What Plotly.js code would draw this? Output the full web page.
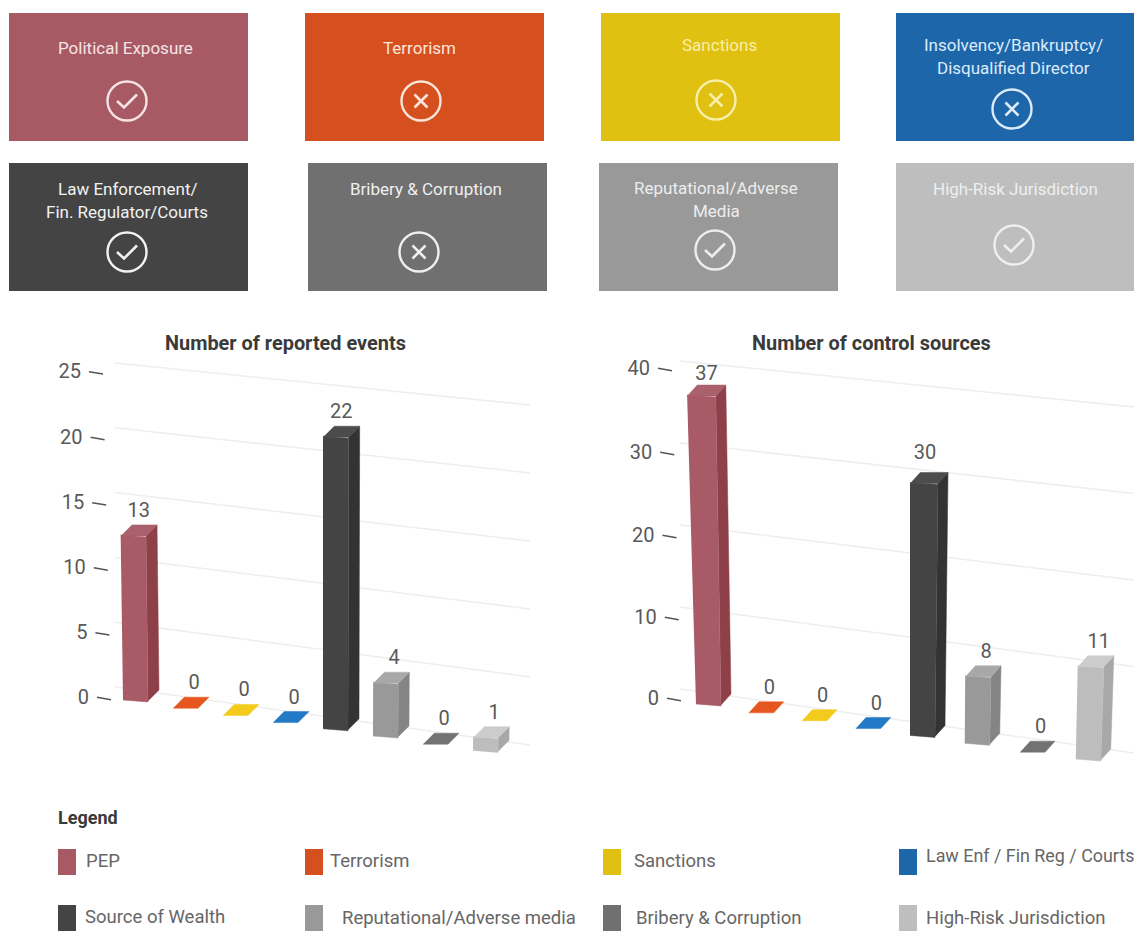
<!DOCTYPE html>
<html>
<head>
<meta charset="utf-8">
<script src="https://cdn.plot.ly/plotly-3.0.1.min.js"></script>
<style>
  html, body { margin: 0; padding: 0; background: #fff; overflow: hidden; }
  #chart { width: 1134px; height: 933px; }
</style>
</head>
<body>
<div id="chart"></div>
<script>
// Risk categories, shared by both bar charts and the legend
const categories = ['PEP', 'Terrorism', 'Sanctions', 'Law Enf / Fin Reg / Courts',
  'Source of Wealth', 'Reputational/Adverse media', 'Bribery & Corruption', 'High-Risk Jurisdiction'];

const reportedEvents = [13, 0, 0, 0, 22, 4, 0, 1];
const controlSources = [37, 0, 0, 0, 30, 8, 0, 11];
const reportedTicks = [0, 5, 10, 15, 20, 25];
const controlTicks = [0, 10, 20, 30, 40];

const frontColors = ['#A85A66', '#E0501F', '#EDC414', '#1F72BC', '#444444', '#999999', '#727272', '#BDBDBD'];
const sideColors  = ['#8E4049', '#C4431A', '#CFAA10', '#1A5E9C', '#333333', '#848484', '#606060', '#A8A8A8'];
const topColors   = ['#A9616C', '#E6561F', '#F2CB1C', '#2279C6', '#4C4C4C', '#A8A8A8', '#727272', '#CCCCCC'];
const legendColors = ['#A85A64', '#D6501F', '#E0C010', '#1E66AA', '#444444', '#999999', '#707070', '#BEBEBE'];

const tileTitles = [
  ['Political Exposure'], ['Terrorism'], ['Sanctions'], ['Insolvency/Bankruptcy/', 'Disqualified Director'],
  ['Law Enforcement/', 'Fin. Regulator/Courts'], ['Bribery & Corruption'], ['Reputational/Adverse', 'Media'], ['High-Risk Jurisdiction']
];
const tileCleared = [true, false, false, false, true, false, true, true];
const tileColors = ['#A85A64', '#D6501F', '#E0C010', '#1E66AA', '#444444', '#707070', '#999999', '#BEBEBE'];
const tileTextColors = ['#F6E4E4', '#FBE6DC', '#F8EFA8', '#DCEBFA', '#F2F2F2', '#EFEFEF', '#EDEDED', '#EFEFEF'];

// Page layout of the tiles: left edge, top edge, title centre, icon centre
const tileBoxes = [
  { x: 9,   y: 13,  tx: 125,  ty: 48,  cx: 127,  cy: 101 },
  { x: 305, y: 13,  tx: 419,  ty: 48,  cx: 421,  cy: 101 },
  { x: 601, y: 13,  tx: 719,  ty: 45,  cx: 716,  cy: 100 },
  { x: 896, y: 13,  tx: 1013, ty: 45,  cx: 1012, cy: 109 },
  { x: 9,   y: 163, tx: 127,  ty: 189, cx: 127,  cy: 252 },
  { x: 308, y: 163, tx: 426,  ty: 189, cx: 419,  cy: 252 },
  { x: 599, y: 163, tx: 716,  ty: 188, cx: 715,  cy: 250 },
  { x: 896, y: 163, tx: 1015, ty: 189, cx: 1014, cy: 245 }
];

// Page layout of the legend entries, in category order
const legendBoxes = [
  { x: 58,  y: 849, tx: 84,  ty: 861, size: 18.5 }, { x: 305, y: 849, tx: 328, ty: 861, size: 18.5 },
  { x: 603, y: 849, tx: 632, ty: 861, size: 18.5 }, { x: 899, y: 849, tx: 924, ty: 855, size: 17.9 },
  { x: 58,  y: 905, tx: 83,  ty: 917, size: 18.5 }, { x: 305, y: 905, tx: 340, ty: 918, size: 18.5 },
  { x: 603, y: 905, tx: 634, ty: 918, size: 18.5 }, { x: 899, y: 905, tx: 924, ty: 918, size: 18.5 }
];

const FONT = 'Roboto, sans-serif';

// Oblique view of each chart: how category index and value land on the page
const leftView = {
  box: [40, 340, 540, 772], xa: 'x', ya: 'y', xk: 'xaxis', yk: 'yaxis',
  originX: 123, originY: 701, catStep: 50, catGrow: 0, floorStep: 7.2,
  unit: 12.7, unitGrow: 0.15, lean: -0.18, leanStep: 0.045, width: 25, widen: 0.03, dx: 11, dy: 11,
  grid: { x0: 115, y0: 687, u0: 12.96, x1: 530, y1: 745, u1: 13.6 },
  tick: { x: 111, xStep: -0.32, y: 698.5, yStep: -12.9, curve: -0.005 },
  labelShift: {}
};
const rightView = {
  box: [610, 340, 1134, 772], xa: 'x2', ya: 'y2', xk: 'xaxis2', yk: 'yaxis2',
  originX: 696, originY: 705, catStep: 52.5, catGrow: 0.25, floorStep: 7.86,
  unit: 8.35, unitGrow: 0.02, lean: -0.24, leanStep: 0.06, width: 25, widen: 0.1, dx: 10, dy: 11,
  grid: { x0: 680, y0: 689, u0: 8.2, x1: 1134, y1: 753, u1: 8.65 },
  tick: { x: 681, xStep: -0.225, y: 699.5, yStep: -8.05, curve: -0.005 },
  labelShift: { 0: [0, 3], 4: [-4, -6] }
};

const axisX = (view, px) => (px - view.originX) / view.catStep;
const axisY = (view, py) => (view.originY - py) / view.unit;

// Page position of the front-left corner of a bar at the given height
function corner(view, i, value) {
  return {
    x: view.originX + view.catStep * i + view.catGrow * i * i + (view.lean + view.leanStep * i) * value,
    y: view.originY + view.floorStep * i - value * (view.unit + view.unitGrow * i)
  };
}

function polygon(view, pts, color) {
  return {
    type: 'scatter', mode: 'lines', xaxis: view.xa, yaxis: view.ya,
    x: pts.map(p => axisX(view, p.x)), y: pts.map(p => axisY(view, p.y)),
    fill: 'toself', fillcolor: color, line: { color: color, width: 0.5 },
    hoverinfo: 'skip', showlegend: false
  };
}

function gridPoint(view, value, px) {
  const g = view.grid, t = (px - g.x0) / (g.x1 - g.x0);
  const y0 = g.y0 - g.u0 * value, y1 = g.y1 - g.u1 * value;
  return { x: px, y: y0 + (y1 - y0) * t };
}

function chartTraces(view, values, ticks) {
  const out = [];
  // Receding gridlines on the back wall
  ticks.forEach(v => {
    const a = gridPoint(view, v, view.grid.x0), b = gridPoint(view, v, view.grid.x1);
    out.push({
      type: 'scatter', mode: 'lines', xaxis: view.xa, yaxis: view.ya,
      x: [axisX(view, a.x), axisX(view, b.x)], y: [axisY(view, a.y), axisY(view, b.y)],
      line: { color: '#EEEEEE', width: 1.5 }, hoverinfo: 'skip', showlegend: false
    });
  });
  // Tick dashes and labels follow the perspective of the value axis
  const tickPos = ticks.map(v => ({
    v, x: view.tick.x + view.tick.xStep * v,
    y: view.tick.y + view.tick.yStep * v + view.tick.curve * v * v
  }));
  tickPos.forEach(t => {
    out.push({
      type: 'scatter', mode: 'lines', xaxis: view.xa, yaxis: view.ya,
      x: [axisX(view, t.x - 14), axisX(view, t.x)], y: [axisY(view, t.y - 1.2), axisY(view, t.y + 1.2)],
      line: { color: '#555555', width: 1.6 }, hoverinfo: 'skip', showlegend: false
    });
  });
  out.push({
    type: 'scatter', mode: 'text', xaxis: view.xa, yaxis: view.ya,
    x: tickPos.map(t => axisX(view, t.x - 22)), y: tickPos.map(t => axisY(view, t.y)),
    text: tickPos.map(t => String(t.v)), textposition: 'middle left',
    textfont: { family: FONT, size: 20, color: '#595959' }, hoverinfo: 'skip', showlegend: false
  });
  // Bars: side, front and top faces, then the value label
  values.forEach((v, i) => {
    const fb = corner(view, i, 0), ft = corner(view, i, v);
    const w = view.width, wt = view.width + view.widen * v, dx = view.dx, dy = view.dy;
    if (v > 0) {
      out.push(polygon(view, [
        { x: fb.x + w, y: fb.y }, { x: fb.x + w + dx, y: fb.y - dy },
        { x: ft.x + wt + dx, y: ft.y - dy }, { x: ft.x + wt, y: ft.y }
      ], sideColors[i]));
      out.push(polygon(view, [
        { x: fb.x, y: fb.y - 1 }, { x: fb.x + w, y: fb.y + 1 },
        { x: ft.x + wt, y: ft.y + 1 }, { x: ft.x, y: ft.y - 1 }
      ], frontColors[i]));
    }
    out.push(polygon(view, [
      { x: ft.x, y: ft.y }, { x: ft.x + wt, y: ft.y },
      { x: ft.x + wt + dx, y: ft.y - dy }, { x: ft.x + dx, y: ft.y - dy }
    ], topColors[i]));
    const shift = view.labelShift[i] || [v < 12 ? 3 : 0, 0];
    out.push({
      type: 'scatter', mode: 'text', xaxis: view.xa, yaxis: view.ya,
      x: [axisX(view, ft.x + (wt + dx) / 2 + shift[0])], y: [axisY(view, ft.y - 24 + shift[1])],
      text: [String(v)], textposition: 'middle center',
      textfont: { family: FONT, size: 20, color: '#595959' }, hoverinfo: 'skip', showlegend: false
    });
  });
  return out;
}

function axesFor(view) {
  const [l, t, r, b] = view.box;
  return {
    [view.xk]: { domain: [l / 1134, r / 1134], range: [axisX(view, l), axisX(view, r)], visible: false, fixedrange: true, anchor: view.ya },
    [view.yk]: { domain: [1 - b / 933, 1 - t / 933], range: [axisY(view, b), axisY(view, t)], visible: false, fixedrange: true, anchor: view.xa }
  };
}

// Page-space overlay for tiles, icons, titles and the legend
const pageShapes = [];
const pageNotes = [];
const note = (text, x, y, size, color, extra) => pageNotes.push(Object.assign({
  text, x, y, xref: 'x3', yref: 'y3', showarrow: false, xanchor: 'center', yanchor: 'middle',
  font: { family: FONT, size, color }
}, extra || {}));
const shape = s => pageShapes.push(Object.assign({ xref: 'x3', yref: 'y3', layer: 'below' }, s));

tileBoxes.forEach((b, i) => {
  shape({ type: 'rect', x0: b.x, x1: b.x + 239, y0: b.y, y1: b.y + 128, fillcolor: tileColors[i], line: { width: 0 } });
  tileTitles[i].forEach((line, k) => note(line, b.tx, b.ty + k * 22.5, 17, tileTextColors[i]));
  shape({ type: 'circle', x0: b.cx - 19.5, x1: b.cx + 19.5, y0: b.cy - 19.5, y1: b.cy + 19.5, line: { color: tileTextColors[i], width: 2.4 } });
  const c = b.cx, m = b.cy;
  const mark = tileCleared[i]
    ? `M ${c - 10} ${m} L ${c - 3} ${m + 6.5} L ${c + 10} ${m - 6.5}`
    : `M ${c - 6.5} ${m - 6.5} L ${c + 6.5} ${m + 6.5} M ${c + 6.5} ${m - 6.5} L ${c - 6.5} ${m + 6.5}`;
  shape({ type: 'path', path: mark, line: { color: tileTextColors[i], width: 2.6 } });
});

note('<b>Number of reported events</b>', 285, 343, 19.9, '#3A3A3A');
note('<b>Number of control sources</b>', 871, 343, 19.9, '#3A3A3A');
note('<b>Legend</b>', 56, 817, 18, '#3A3A3A', { xanchor: 'left' });

legendBoxes.forEach((b, i) => {
  shape({ type: 'rect', x0: b.x, x1: b.x + 18, y0: b.y, y1: b.y + 26, fillcolor: legendColors[i], line: { width: 0 } });
  note(categories[i], b.tx, b.ty, b.size, '#666666', { xanchor: 'left' });
});

const traces = [
  ...chartTraces(leftView, reportedEvents, reportedTicks),
  ...chartTraces(rightView, controlSources, controlTicks)
];

const layout = Object.assign({
  width: 1134, height: 933, margin: { l: 0, r: 0, t: 0, b: 0 },
  paper_bgcolor: '#FFFFFF', plot_bgcolor: 'rgba(0,0,0,0)', showlegend: false,
  xaxis3: { domain: [0, 1], range: [0, 1134], visible: false, fixedrange: true, anchor: 'y3' },
  yaxis3: { domain: [0, 1], range: [933, 0], visible: false, fixedrange: true, anchor: 'x3' },
  shapes: pageShapes, annotations: pageNotes
}, axesFor(leftView), axesFor(rightView));

Plotly.newPlot('chart', traces, layout, { displayModeBar: false, staticPlot: true });
</script>
</body>
</html>
